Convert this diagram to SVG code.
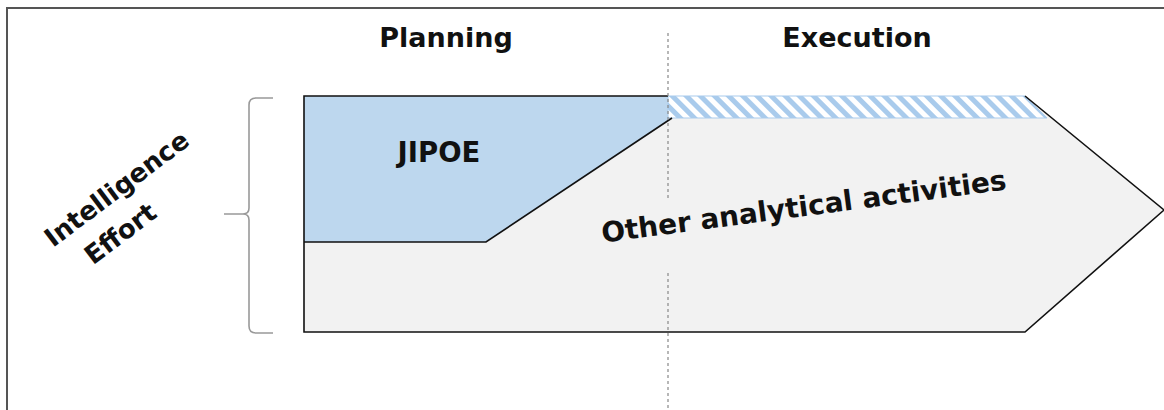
<svg xmlns="http://www.w3.org/2000/svg" width="1164" height="410" viewBox="0 0 1164 410">
<defs>
<pattern id="hatch" patternUnits="userSpaceOnUse" width="10" height="10" patternTransform="rotate(-45)">
<rect width="10" height="10" fill="#a9cbec"/>
<rect width="5" height="10" fill="#ffffff"/>
</pattern>
</defs>
<style>
.t{font-family:"DejaVu Sans","Open Sans",sans-serif;font-weight:bold;fill:#111}
.edge{fill:none;stroke:#111;stroke-width:1.6}
</style>
<rect width="1164" height="410" fill="#ffffff"/>
<rect id="frame" x="7" y="8" width="1170" height="420" fill="none" stroke="#555" stroke-width="2"/>
<g id="headers">
<text class="t" x="446" y="47" font-size="27" text-anchor="middle">Planning</text>
<text class="t" x="857" y="47" font-size="27" text-anchor="middle">Execution</text>
</g>
<g id="other">
<polygon points="304,96 1025,96 1164,210 1025,332 304,332" fill="#f2f2f2"/>
</g>
<g id="jipoe">
<polygon points="304,96 668,96 668,118 672,118 486,242 304,242" fill="#bdd7ee"/>
<text class="t" x="439" y="162" font-size="27.5" text-anchor="middle">JIPOE</text>
</g>
<g id="hatch-band">
<polygon points="668,96 1025,96 1047,118 668,118" fill="url(#hatch)" stroke="#a9cbec" stroke-width="1"/>
</g>
<g id="connectors">
<path class="edge" d="M668,96 H304 V332 H1025 L1164,210 M1025,96 L1164,210"/>
<path class="edge" d="M304,242 H486 L672,118"/>
<path d="M668,33 V198 M668,273 V410" fill="none" stroke="#888" stroke-width="1.2" stroke-dasharray="3,3"/>
<path d="M273,98 H256 Q249,98 249,105 V208 Q249,214 243,214 H224 H243 Q249,214 249,220 V326 Q249,333 256,333 H273" fill="none" stroke="#999" stroke-width="1.6"/>
</g>
<g id="other-label">
<text class="t" x="805" y="216" font-size="28" text-anchor="middle" transform="rotate(-7.5 805 216)">Other analytical activities</text>
</g>
<g id="axis-label" transform="translate(122,196) rotate(-37)">
<text class="t" x="0" y="0" font-size="26" text-anchor="middle">Intelligence</text>
<text class="t" x="-24" y="38" font-size="26" text-anchor="middle">Effort</text>
</g>
</svg>
